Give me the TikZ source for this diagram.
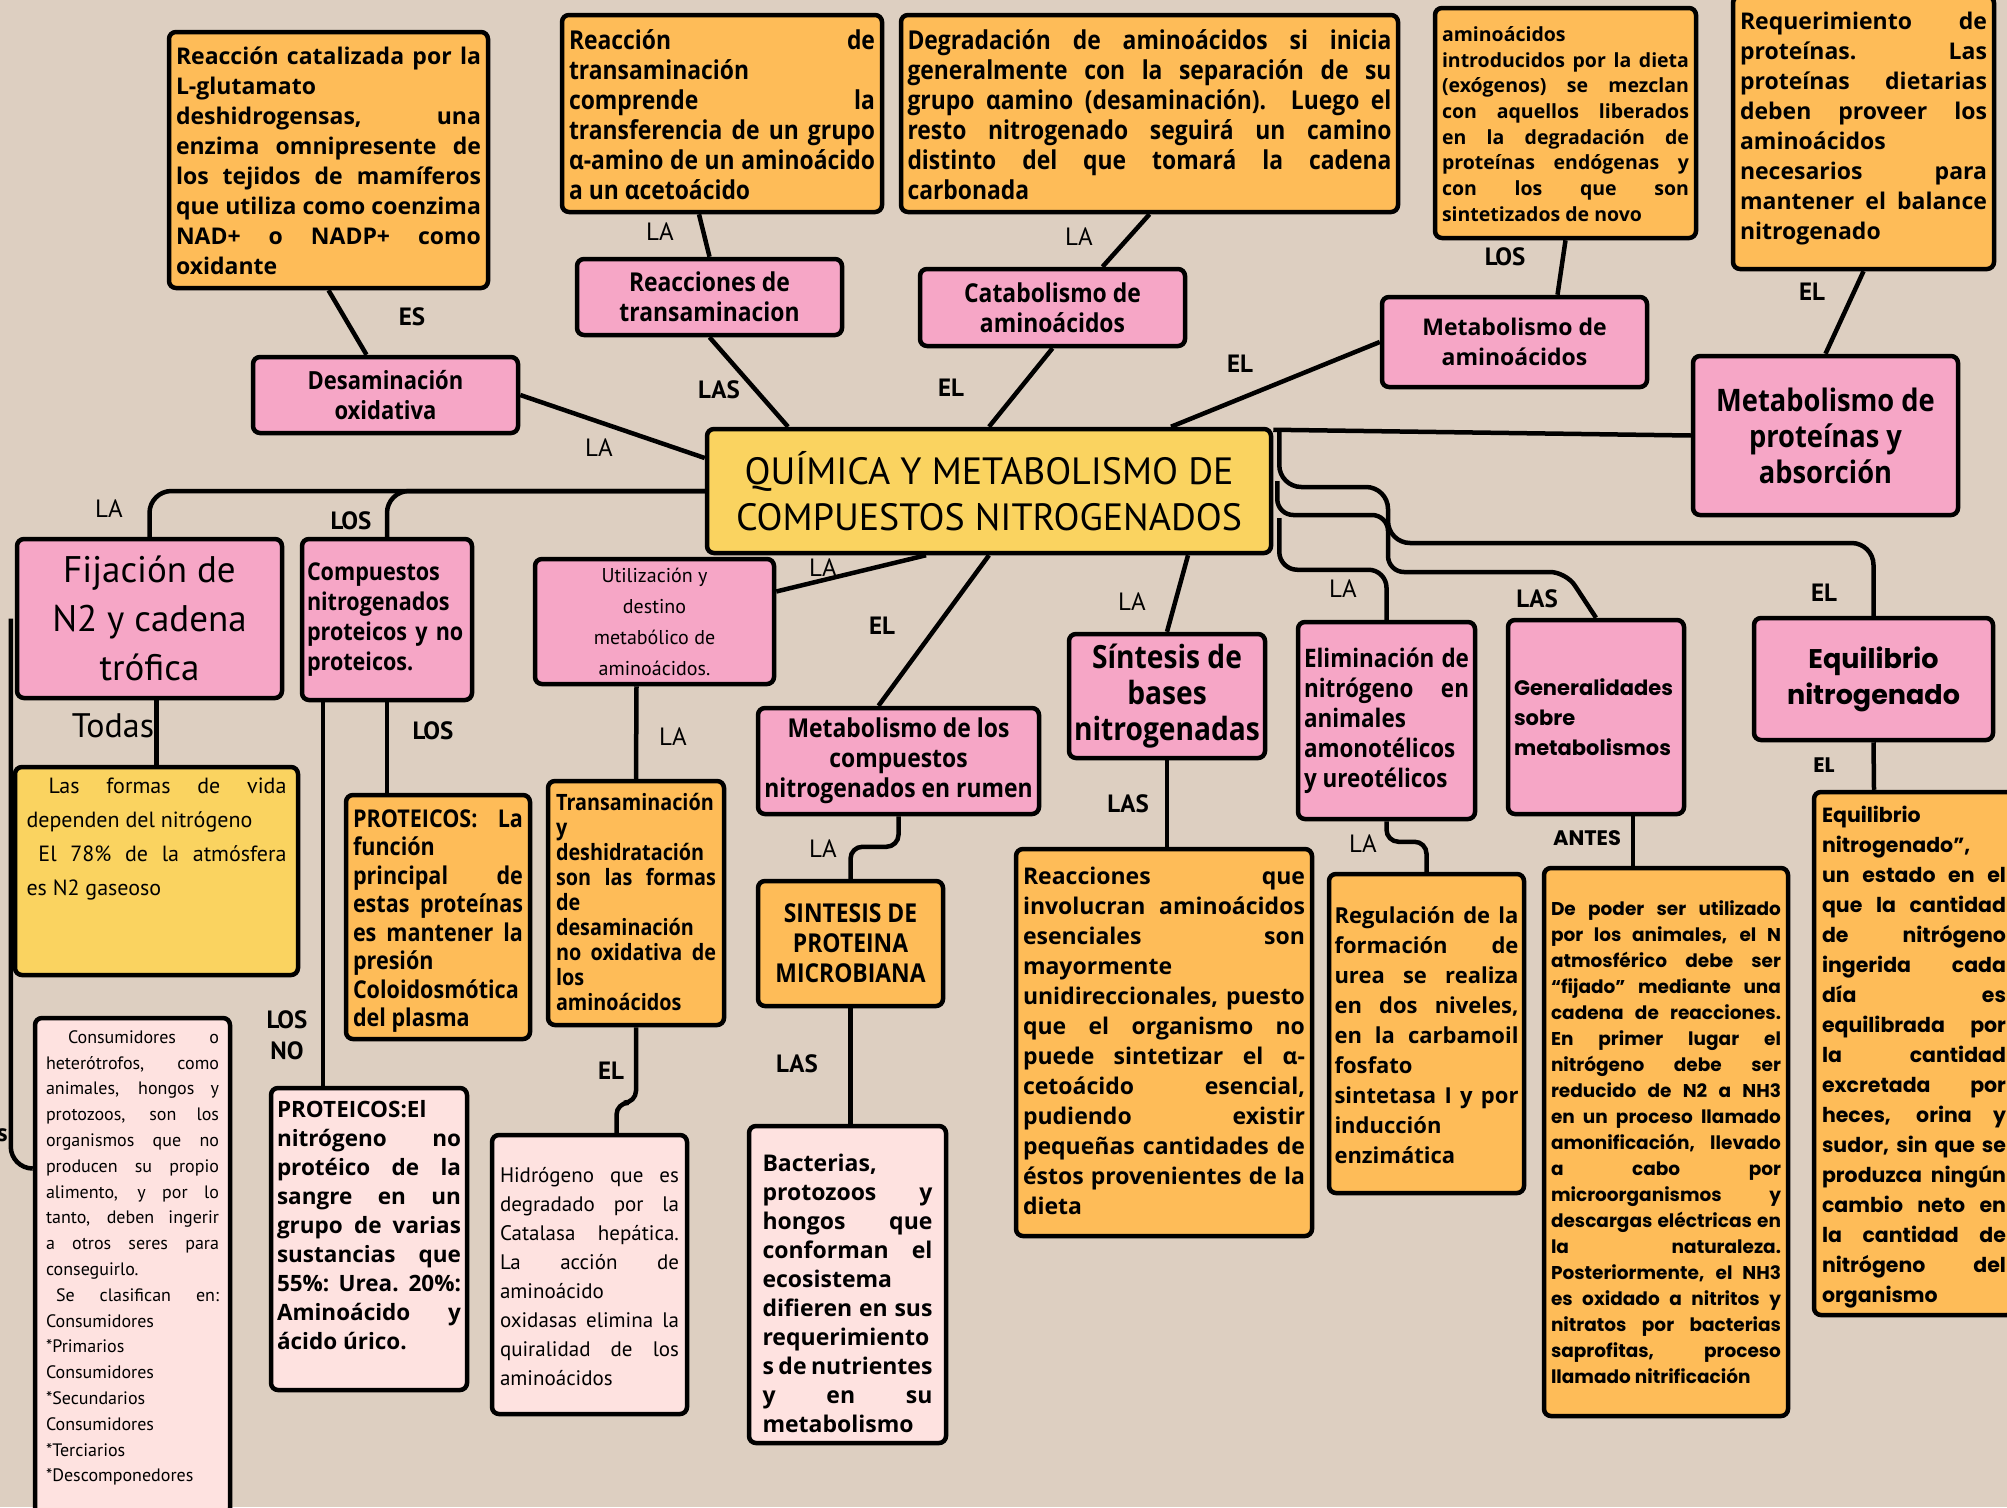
\documentclass[tikz,border=0pt]{standalone}
\usepackage{fontspec}
\setmainfont{Open Sans}
\newfontfamily\ocond[FakeStretch=0.88]{Open Sans}
\newfontfamily\hand{PT Sans}
\newfontfamily\popp{Poppins}
\newcommand{\fs}[2]{\fontsize{#1}{#2}\selectfont}
\newcommand{\tb}[3]{\parbox[c][#2pt][t]{#1pt}{#3}}
\definecolor{papel}{RGB}{221,207,193}
\definecolor{crosa}{RGB}{246,166,198}
\definecolor{cnaranja}{RGB}{254,188,88}
\definecolor{camarillo}{RGB}{250,211,96}
\definecolor{crosita}{RGB}{254,226,224}
\tolerance=10000 \hbadness=10000 \hyphenpenalty=10000 \exhyphenpenalty=10000
\tikzset{
  caja/.style={draw=black, line width=4.5pt, rounded corners=7pt, inner sep=0pt},
  tam/.style 2 args={minimum width=#1, minimum height=#2},
  rosa/.style={caja, fill=crosa, align=center},
  naranja/.style={caja, fill=cnaranja},
  rosita/.style={caja, fill=crosita},
  amarilla/.style={caja, fill=camarillo},
  enlace/.style={line width=4.5pt, rounded corners=22pt},
  lbl/.style={font=\hand\fs{25}{25}, inner sep=0pt},
  blbl/.style={font=\hand\bfseries\fs{25}{31}, inner sep=0pt, align=center},
  plbl/.style={font=\popp\bfseries\fs{21}{21}, inner sep=0pt}
}
\begin{document}
\begin{tikzpicture}[x=1pt, y=-1pt]
\useasboundingbox (0,0) rectangle (2007,1507);
\fill[papel] (0,0) rectangle (2007,1507);

% centro
\node[amarilla, align=center, tam={564}{124}, font=\hand\fs{38}{46}] (quim) at (989,491) {QUÍMICA Y METABOLISMO DE\\COMPUESTOS NITROGENADOS};

% fila de arriba
\node[naranja, tam={319}{256}, font=\bfseries\fs{23}{30}] (tglut) at (328.5,160) {\tb{305}{227}{Reacción catalizada por la\linebreak L-glutamato\linebreak deshidrogensas, una\linebreak enzima omnipresente de\linebreak los tejidos de mamíferos\linebreak que utiliza como coenzima\linebreak NAD+ o NADP+ como\linebreak oxidante}};
\node[naranja, tam={320}{197}, font=\ocond\bfseries\fs{26}{30}] (ttrans) at (722,113.5) {\tb{306}{168}{Reacción de\linebreak transaminación\linebreak comprende la\linebreak transferencia de un grupo\linebreak α-amino de un aminoácido\linebreak a un αcetoácido}};
\node[naranja, tam={497}{197}, font=\ocond\bfseries\fs{26}{30}] (tdegrad) at (1149.5,113.5) {\tb{484}{168}{Degradación de aminoácidos si inicia\linebreak generalmente con la separación de su\linebreak grupo αamino (desaminación). Luego el\linebreak resto nitrogenado seguirá un camino\linebreak distinto del que tomará la cadena\linebreak carbonada}};
\node[naranja, tam={261}{230}, font=\bfseries\fs{19.5}{25.7}] (tdieta) at (1565.5,123) {\tb{247}{193}{aminoácidos\linebreak introducidos por la dieta\linebreak (exógenos) se mezclan\linebreak con aquellos liberados\linebreak en la degradación de\linebreak proteínas endógenas y\linebreak con los que son\linebreak sintetizados de novo}};
\node[naranja, tam={261}{273}, font=\bfseries\fs{23}{30}] (treq) at (1863.5,132.5) {\tb{247}{241}{Requerimiento de\linebreak proteínas. Las\linebreak proteínas dietarias\linebreak deben proveer los\linebreak aminoácidos\linebreak necesarios para\linebreak mantener el balance\linebreak nitrogenado}};

% temas rosas
\node[rosa, tam={265}{76}, font=\ocond\bfseries\fs{26}{30}] (transam) at (709.5,297) {Reacciones de\\transaminacion};
\node[rosa, tam={265}{77}, font=\ocond\bfseries\fs{26}{30}] (catab) at (1052.5,307.5) {Catabolismo de\\aminoácidos};
\node[rosa, tam={265}{90}, font=\bfseries\fs{23}{30}] (metamino) at (1514.5,342) {Metabolismo de\\aminoácidos};
\node[rosa, tam={265}{76}, font=\ocond\bfseries\fs{25}{30}] (desam) at (385.5,395) {Desaminación\\oxidativa};
\node[rosa, tam={265}{159}, font=\ocond\bfseries\fs{31}{36}] (metprot) at (1825.5,435.5) {Metabolismo de\\proteínas y\\absorción};
\node[rosa, tam={265}{159}, font=\hand\fs{37}{49}] (fijac) at (149.5,618.5) {Fijación de\\N2 y cadena\\trófica};
\node[rosa, tam={170}{161}, align=left, text width=160pt, font=\ocond\bfseries\fs{24.5}{30}] (compn) at (387,619.5) {Compuestos\\nitrogenados\\proteicos y no\\proteicos.};
\node[rosa, tam={239}{125}, font=\hand\fs{20}{31}] (utiliz) at (654.5,621.5) {Utilización y\\destino\\metabólico de\\aminoácidos.};
\node[rosa, tam={281}{106}, font=\ocond\bfseries\fs{26}{30}] (rumen) at (898.5,761) {Metabolismo de los\\compuestos\\nitrogenados en rumen};
\node[rosa, tam={196}{124}, font=\ocond\bfseries\fs{32}{36}] (sintbas) at (1167,696) {Síntesis de\\bases\\nitrogenadas};
\node[rosa, tam={177}{197}, align=justify, text width=165pt, font=\ocond\bfseries\fs{25.5}{30}] (elimin) at (1386.5,720.5) {Eliminación de\linebreak nitrógeno en\linebreak animales\linebreak amonotélicos\linebreak y ureotélicos};
\node[rosa, tam={176}{194}, align=left, text width=164pt, font=\popp\bfseries\fs{21}{30}] (general) at (1596,717) {Generalidades\\sobre\\metabolismos};
\node[rosa, tam={239}{122}, font=\popp\bfseries\fs{27}{36}] (equil) at (1873.5,679) {Equilibrio\\nitrogenado};

% cajas de texto
\node[amarilla, tam={283}{208}, font=\hand\fs{22}{34}] (tvida) at (156.5,871) {\tb{260}{186}{\hspace*{22pt}Las formas de vida\linebreak dependen del nitrógeno\par\hspace*{12pt}El 78\% de la atmósfera\linebreak es N2 gaseoso}};
\node[naranja, tam={184}{244}, font=\ocond\bfseries\fs{24.5}{28.5}] (tprot) at (438,917) {\tb{170}{215}{PROTEICOS: La\linebreak función\linebreak principal de\linebreak estas proteínas\linebreak es mantener la\linebreak presión\linebreak Coloidosmótica\linebreak del plasma}};
\node[naranja, tam={176}{244}, font=\ocond\bfseries\fs{22.5}{25}] (tdeshid) at (636,903) {\tb{160}{219}{Transaminación\linebreak y\linebreak deshidratación\linebreak son las formas\linebreak de\linebreak desaminación\linebreak no oxidativa de\linebreak los\linebreak aminoácidos}};
\node[naranja, align=center, tam={185}{125}, font=\ocond\bfseries\fs{26}{30}] (tmicro) at (850.5,943.5) {SINTESIS DE\\PROTEINA\\MICROBIANA};
\node[naranja, tam={296}{387}, font=\bfseries\fs{23}{30}] (tesenc) at (1164,1042.5) {\tb{282}{350}{Reacciones que\linebreak involucran aminoácidos\linebreak esenciales son\linebreak mayormente\linebreak unidireccionales, puesto\linebreak que el organismo no\linebreak puede sintetizar el α-\linebreak cetoácido esencial,\linebreak pudiendo existir\linebreak pequeñas cantidades de\linebreak éstos provenientes de la\linebreak dieta}};
\node[naranja, tam={195}{319}, font=\bfseries\fs{22}{30}] (turea) at (1426.5,1033.5) {\tb{184}{254}{Regulación de la\linebreak formación de\linebreak urea se realiza\linebreak en dos niveles,\linebreak en la carbamoil\linebreak fosfato\linebreak sintetasa I y por\linebreak inducción\linebreak enzimática}};
\node[naranja, tam={244}{548}, font=\popp\bfseries\fs{18.5}{26}] (tfijado) at (1666,1142) {\tb{230}{483}{De poder ser utilizado\linebreak por los animales, el N\linebreak atmosférico debe ser\linebreak “fijado” mediante una\linebreak cadena de reacciones.\linebreak En primer lugar el\linebreak nitrógeno debe ser\linebreak reducido de N2 a NH3\linebreak en un proceso llamado\linebreak amonificación, llevado\linebreak a cabo por\linebreak microorganismos y\linebreak descargas eléctricas en\linebreak la naturaleza.\linebreak Posteriormente, el NH3\linebreak es oxidado a nitritos y\linebreak nitratos por bacterias\linebreak saprofitas, proceso\linebreak llamado nitrificación}};
\node[naranja, tam={200}{523}, font=\popp\bfseries\fs{20.5}{30}] (tequil) at (1914,1053.5) {\tb{184}{494}{Equilibrio\linebreak nitrogenado”,\linebreak un estado en el\linebreak que la cantidad\linebreak de nitrógeno\linebreak ingerida cada\linebreak día es\linebreak equilibrada por\linebreak la cantidad\linebreak excretada por\linebreak heces, orina y\linebreak sudor, sin que se\linebreak produzca ningún\linebreak cambio neto en\linebreak la cantidad de\linebreak nitrógeno del\linebreak organismo}};
\node[rosita, tam={195}{497}, font=\hand\fs{18}{25.8}] (tconsum) at (132.5,1266.5) {\tb{173}{472}{\hspace*{22pt}Consumidores o\linebreak heterótrofos, como\linebreak animales, hongos y\linebreak protozoos, son los\linebreak organismos que no\linebreak producen su propio\linebreak alimento, y por lo\linebreak tanto, deben ingerir\linebreak a otros seres para\linebreak conseguirlo.\par\hspace*{10pt}Se clasifican en:\linebreak Consumidores\linebreak *Primarios\linebreak Consumidores\linebreak *Secundarios\linebreak Consumidores\linebreak *Terciarios\linebreak *Descomponedores}};
\node[rosita, tam={196}{302}, font=\bfseries\fs{22.5}{29}] (tnoprot) at (369,1239) {\tb{184}{277}{PROTEICOS:El\linebreak nitrógeno no\linebreak protéico de la\linebreak sangre en un\linebreak grupo de varias\linebreak sustancias que\linebreak 55\%: Urea. 20\%:\linebreak Aminoácido y\linebreak ácido úrico.}};
\node[rosita, tam={195}{279}, font=\hand\fs{21}{29}] (thidrog) at (589.5,1274.5) {\tb{179}{214}{Hidrógeno que es\linebreak degradado por la\linebreak Catalasa hepática.\linebreak La acción de\linebreak aminoácido\linebreak oxidasas elimina la\linebreak quiralidad de los\linebreak aminoácidos}};
\node[rosita, tam={197}{317}, font=\bfseries\fs{23}{29}] (tbacter) at (847.5,1284.5) {\tb{170}{260}{Bacterias,\linebreak protozoos y\linebreak hongos que\linebreak conforman el\linebreak ecosistema\linebreak difieren en sus\linebreak requerimiento\linebreak s de nutrientes\linebreak y en su\linebreak metabolismo}};

% conectores
\draw[enlace] (tglut.south) -- ([xshift=-19pt]desam.north);
\draw[enlace] ([xshift=-23pt]ttrans.south) -- (transam.north);
\draw[enlace] (tdegrad.south) -- ([xshift=50pt]catab.north);
\draw[enlace] (tdieta.south) -- ([xshift=43pt]metamino.north);
\draw[enlace] (treq.south) -- (metprot.north);
\draw[enlace] (transam.south) -- ([xshift=-201pt]quim.north);
\draw[enlace] (catab.south) -- (quim.north);
\draw[enlace] (metamino.west) -- ([xshift=182pt]quim.north);
\draw[enlace] (desam.east) -- ([yshift=33pt]quim.west);
\draw[enlace] ([yshift=-3pt]quim.north east) -- (metprot.west);
\draw[enlace] (quim.west) -| (fijac.north);
\draw[enlace] (quim.west) -| (compn.north);
\draw[enlace] ([xshift=-63pt]quim.south) -- ([yshift=30pt]utiliz.east);
\draw[enlace] (quim.south) -- ([xshift=-20pt]rumen.north);
\draw[enlace] ([xshift=199pt]quim.south) -- (sintbas.north);
\draw[enlace] ([xshift=6pt,yshift=-4pt]quim.north east) |- (1388,487) -- (1388,543) -| (equil.north);
\draw[enlace, rounded corners=16pt] ([xshift=4pt,yshift=10pt]quim.east) |- (1388,515) -- (1388,572) -- (1566,572) -- (general.north);
\draw[enlace, rounded corners=18pt] ([xshift=6pt,yshift=-27pt]quim.east) |- ([yshift=50pt]elimin.north) -- (elimin.north);
\draw[enlace] ([xshift=7pt]fijac.south) -- (tvida.north);
\draw[enlace] ([xshift=-4pt]fijac.west) |- ([yshift=98pt]tconsum.west);
\draw[enlace] (compn.south) -- (compn.south |- tprot.north);
\draw[enlace] ([xshift=-64pt]compn.south) -- ([xshift=-46pt]tnoprot.north);
\draw[enlace] ([xshift=-18pt]utiliz.south) -- (tdeshid.north);
\draw[enlace, rounded corners=12pt] (tdeshid.south) |- ([xshift=27pt,yshift=30pt]thidrog.north) -- ([xshift=27pt]thidrog.north);
\draw[enlace, rounded corners=12pt] (rumen.south) |- ([yshift=32pt]tmicro.north) -- (tmicro.north);
\draw[enlace] (tmicro.south) -- (tmicro.south |- tbacter.north);
\draw[enlace] (sintbas.south) -- (sintbas.south |- tesenc.north);
\draw[enlace, rounded corners=12pt] (elimin.south) |- ([yshift=30pt]turea.north) -- (turea.north);
\draw[enlace] ([xshift=37pt]general.south) -- ([xshift=-33pt]tfijado.north);
\draw[enlace] (equil.south) -- ([xshift=-40pt]tequil.north);

% etiquetas
\node[blbl] (lES) at (412,317) {ES};
\node[lbl] (lLA1) at (660,232) {LA};
\node[lbl] (lLA2) at (1079,237) {LA};
\node[blbl] (lLOS1) at (1505,257) {LOS};
\node[blbl] (lEL1) at (1812,292) {EL};
\node[blbl] (lLAS1) at (719,390) {LAS};
\node[blbl] (lEL2) at (951,388) {EL};
\node[blbl] (lEL3) at (1240,364) {EL};
\node[lbl] (lLA3) at (599,448) {LA};
\node[lbl] (lLA4) at (109,509) {LA};
\node[blbl] (lLOS2) at (351,521) {LOS};
\node[lbl] (lLA5) at (823,568) {LA};
\node[blbl] (lEL4) at (882,626) {EL};
\node[lbl] (lLA6) at (1132,602) {LA};
\node[lbl] (lLA7) at (1343,589) {LA};
\node[blbl] (lLAS2) at (1537,599) {LAS};
\node[blbl] (lEL5) at (1824,593) {EL};
\node[lbl, font=\hand\fs{34}{34}] (lTodas) at (113,726) {Todas};
\node[blbl] (lLOS3) at (433,731) {LOS};
\node[lbl] (lLA8) at (673,737) {LA};
\node[lbl] (lLA9) at (823,849) {LA};
\node[blbl] (lLAS3) at (1128,804) {LAS};
\node[lbl] (lLA10) at (1363,844) {LA};
\node[plbl] (lANTES) at (1587,838) {ANTES};
\node[plbl] (lEL6) at (1824,765) {EL};
\node[blbl] (lLOSNO) at (287,1035) {LOS\\NO};
\node[blbl] (lEL7) at (611,1071) {EL};
\node[blbl] (lLAS4) at (797,1064) {LAS};
\node[blbl, anchor=east] (lcorte) at (8,1135) {s};
\end{tikzpicture}
\end{document}
